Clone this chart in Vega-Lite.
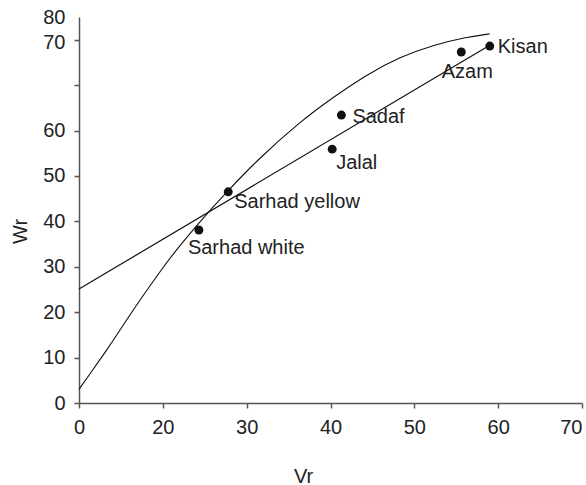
{
  "$schema": "https://vega.github.io/schema/vega-lite/v6.json",
  "width": 503,
  "height": 386,
  "autosize": "none",
  "padding": {"left": 79, "top": 17, "right": 4, "bottom": 82},
  "background": "white",
  "config": {
    "view": {"stroke": null},
    "font": "Liberation Sans",
    "axis": {"grid": false, "domainColor": "#555", "domainWidth": 1.5, "tickColor": "#555", "tickWidth": 1.5, "tickSize": 5, "labelFont": "Liberation Sans", "labelFontSize": 20, "labelColor": "#222", "labelOverlap": false, "titleFont": "Liberation Sans", "titleFontSize": 20, "titleFontWeight": "normal", "titleColor": "#222"}
  },
  "datasets": {
    "pts": [
      {"name": "Kisan", "Vr": 59.0, "Wr": 78.6},
      {"name": "Azam", "Vr": 55.6, "Wr": 77.3},
      {"name": "Sadaf", "Vr": 41.3, "Wr": 63.4},
      {"name": "Jalal", "Vr": 40.2, "Wr": 55.9},
      {"name": "Sarhad yellow", "Vr": 27.8, "Wr": 46.5},
      {"name": "Sarhad white", "Vr": 24.3, "Wr": 38.1}
    ],
    "reg": [
      {"Vr": 10, "Wr": 25.1},
      {"Vr": 59.2, "Wr": 79.0}
    ],
    "curve": [
      {"Vr": 10.0, "Wr": 3.0},
      {"Vr": 11.1, "Wr": 5.9},
      {"Vr": 13.5, "Wr": 12.1},
      {"Vr": 15.5, "Wr": 17.8},
      {"Vr": 17.5, "Wr": 23.3},
      {"Vr": 19.7, "Wr": 29.0},
      {"Vr": 21.2, "Wr": 32.8},
      {"Vr": 24.1, "Wr": 39.2},
      {"Vr": 25.6, "Wr": 42.4},
      {"Vr": 27.8, "Wr": 46.8},
      {"Vr": 31.2, "Wr": 53.4},
      {"Vr": 36.4, "Wr": 62.0},
      {"Vr": 40.3, "Wr": 67.3},
      {"Vr": 44.4, "Wr": 72.4},
      {"Vr": 48.3, "Wr": 76.2},
      {"Vr": 52.2, "Wr": 78.8},
      {"Vr": 56.3, "Wr": 80.6},
      {"Vr": 59.0, "Wr": 81.3}
    ]
  },
  "encoding": {
    "x": {"field": "Vr", "type": "quantitative", "scale": {"domain": [10, 70], "nice": false, "zero": false},
      "axis": {"title": "Vr", "values": [10, 20, 30, 40, 50, 60, 70],
        "labelExpr": "datum.value == 10 ? '0' : datum.label",
        "labelAlign": {"condition": {"test": "datum.value == 70", "value": "right"}, "value": "center"},
        "labelPadding": 9, "titleX": 224, "titleY": 73, "titleBaseline": "middle", "titleAnchor": null, "titleAlign": "center"}},
    "y": {"field": "Wr", "type": "quantitative", "scale": {"domain": [0, 85], "nice": false},
      "axis": {"title": "Wr", "values": [0, 10, 20, 30, 40, 50, 60, 70, 80, 85],
        "labelExpr": "datum.value == 80 ? '70' : datum.value == 70 ? '' : datum.value > 83 ? '80' : datum.label",
        "tickOpacity": {"condition": {"test": "datum.value > 83", "value": 0}, "value": 1},
        "labelOffset": {"condition": {"test": "datum.value == 80", "value": 3}, "value": 0},
        "labelPadding": 9, "titleX": -59, "titleY": 214, "titleAngle": -90, "titleBaseline": "middle", "titleAlign": "center", "titleAnchor": null}}
  },
  "layer": [
    {"data": {"name": "curve"}, "mark": {"type": "line", "color": "#111", "strokeWidth": 1.1, "interpolate": "basis"}},
    {"data": {"name": "reg"}, "mark": {"type": "line", "color": "#111", "strokeWidth": 1.2}},
    {"data": {"name": "pts"}, "mark": {"type": "circle", "color": "#111", "opacity": 1, "size": 80}},
    {"data": {"name": "pts"}, "transform": [{"filter": "datum.name == 'Kisan'"}], "mark": {"type": "text", "align": "left", "baseline": "middle", "dx": 8, "dy": 1, "fontSize": 20, "color": "#222"}, "encoding": {"text": {"field": "name"}}},
    {"data": {"name": "pts"}, "transform": [{"filter": "datum.name == 'Azam'"}], "mark": {"type": "text", "align": "center", "baseline": "middle", "dx": 6, "dy": 20, "fontSize": 20, "color": "#222"}, "encoding": {"text": {"field": "name"}}},
    {"data": {"name": "pts"}, "transform": [{"filter": "datum.name == 'Sadaf'"}], "mark": {"type": "text", "align": "left", "baseline": "middle", "dx": 11, "dy": 2, "fontSize": 20, "color": "#222"}, "encoding": {"text": {"field": "name"}}},
    {"data": {"name": "pts"}, "transform": [{"filter": "datum.name == 'Jalal'"}], "mark": {"type": "text", "align": "left", "baseline": "middle", "dx": 4, "dy": 14, "fontSize": 20, "color": "#222"}, "encoding": {"text": {"field": "name"}}},
    {"data": {"name": "pts"}, "transform": [{"filter": "datum.name == 'Sarhad yellow'"}], "mark": {"type": "text", "align": "left", "baseline": "middle", "dx": 6, "dy": 10, "fontSize": 20, "color": "#222"}, "encoding": {"text": {"field": "name"}}},
    {"data": {"name": "pts"}, "transform": [{"filter": "datum.name == 'Sarhad white'"}], "mark": {"type": "text", "align": "left", "baseline": "middle", "dx": -11, "dy": 18, "fontSize": 20, "color": "#222"}, "encoding": {"text": {"field": "name"}}}
  ]
}
